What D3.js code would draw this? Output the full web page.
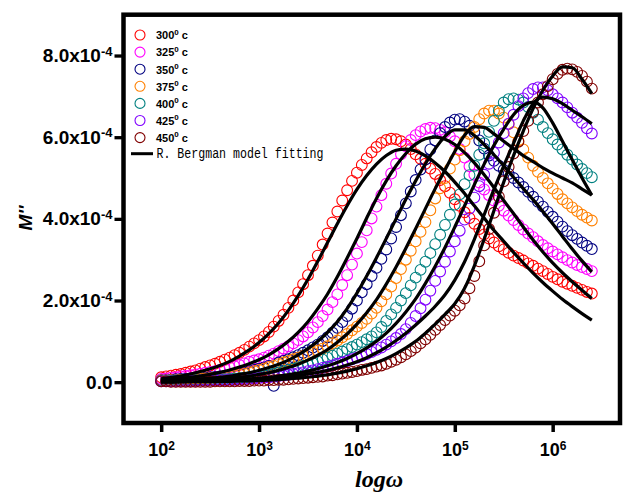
<!DOCTYPE html>
<html>
<head>
<meta charset="utf-8">
<script src="https://cdn.jsdelivr.net/npm/d3@7"></script>
<style>
  body { margin: 0; background: #fff; }
  text { font-family: "Liberation Sans", Arial, sans-serif; }
</style>
</head>
<body>
<div id="chart"></div>
<script>
// log10(omega) grid of the measured points
const logW = [
  2.00, 2.05, 2.10, 2.15, 2.20, 2.25, 2.30, 2.35, 2.40, 2.45,
  2.50, 2.55, 2.60, 2.65, 2.70, 2.75, 2.80, 2.85, 2.90, 2.95,
  3.00, 3.05, 3.10, 3.15, 3.20, 3.25, 3.30, 3.35, 3.40, 3.45,
  3.50, 3.55, 3.60, 3.65, 3.70, 3.75, 3.80, 3.85, 3.90, 3.95,
  4.00, 4.05, 4.10, 4.15, 4.20, 4.25, 4.30, 4.35, 4.40, 4.45,
  4.50, 4.55, 4.60, 4.65, 4.70, 4.75, 4.80, 4.85, 4.90, 4.95,
  5.00, 5.05, 5.10, 5.15, 5.20, 5.25, 5.30, 5.35, 5.40, 5.45,
  5.50, 5.55, 5.60, 5.65, 5.70, 5.75, 5.80, 5.85, 5.90, 5.95,
  6.00, 6.05, 6.10, 6.15, 6.20, 6.25, 6.30, 6.35, 6.40
];

// M'' in units of 1e-4
const m300 = [
  0.12, 0.14, 0.16, 0.18, 0.20, 0.23, 0.26, 0.29, 0.33, 0.37,
  0.41, 0.45, 0.50, 0.55, 0.60, 0.66, 0.72, 0.79, 0.87, 0.95,
  1.03, 1.12, 1.23, 1.36, 1.50, 1.65, 1.82, 2.00, 2.20, 2.40,
  2.62, 2.85, 3.10, 3.37, 3.64, 3.91, 4.18, 4.45, 4.70, 4.93,
  5.13, 5.32, 5.48, 5.63, 5.76, 5.86, 5.93, 5.96, 5.95, 5.90,
  5.82, 5.71, 5.58, 5.47, 5.35, 5.23, 5.10, 4.95, 4.80, 4.64,
  4.48, 4.32, 4.16, 4.02, 3.88, 3.75, 3.62, 3.52, 3.42, 3.33,
  3.25, 3.17, 3.10, 3.04, 2.98, 2.91, 2.85, 2.78, 2.72, 2.65,
  2.58, 2.52, 2.46, 2.41, 2.36, 2.31, 2.26, 2.21, 2.17
];
const m325 = [
  0.08, 0.09, 0.11, 0.12, 0.14, 0.15, 0.17, 0.19, 0.21, 0.23,
  0.25, 0.27, 0.30, 0.33, 0.36, 0.39, 0.42, 0.46, 0.50, 0.53,
  0.56, 0.60, 0.65, 0.70, 0.76, 0.82, 0.88, 0.95, 1.03, 1.12,
  1.22, 1.34, 1.47, 1.62, 1.78, 1.96, 2.15, 2.38, 2.62, 2.88,
  3.15, 3.43, 3.72, 4.01, 4.30, 4.58, 4.86, 5.11, 5.35, 5.58,
  5.78, 5.93, 6.05, 6.14, 6.20, 6.23, 6.22, 6.18, 6.12, 6.02,
  5.90, 5.71, 5.50, 5.29, 5.08, 4.89, 4.72, 4.58, 4.45, 4.32,
  4.20, 4.08, 3.97, 3.85, 3.74, 3.64, 3.55, 3.45, 3.36, 3.28,
  3.20, 3.13, 3.06, 2.99, 2.93, 2.87, 2.82, 2.77, 2.72
];
const m350 = [
  0.05, 0.05, 0.06, 0.07, 0.08, 0.08, 0.09, 0.10, 0.10, 0.11,
  0.12, 0.13, 0.14, 0.15, 0.17, 0.19, 0.21, 0.24, 0.27, 0.30,
  0.33, 0.36, 0.40, -0.09, 0.48, 0.52, 0.56, 0.61, 0.66, 0.72,
  0.78, 0.85, 0.92, 1.01, 1.10, 1.21, 1.33, 1.47, 1.62, 1.80,
  2.00, 2.20, 2.40, 2.60, 2.80, 3.02, 3.25, 3.52, 3.80, 4.09,
  4.38, 4.67, 4.95, 5.21, 5.45, 5.70, 5.92, 6.10, 6.25, 6.36,
  6.43, 6.44, 6.38, 6.28, 6.12, 5.92, 5.72, 5.55, 5.42, 5.30,
  5.20, 5.10, 5.00, 4.89, 4.78, 4.66, 4.54, 4.42, 4.30, 4.17,
  4.05, 3.93, 3.81, 3.70, 3.60, 3.51, 3.42, 3.34, 3.26
];
const m375 = [
  0.04, 0.04, 0.05, 0.05, 0.06, 0.06, 0.07, 0.07, 0.08, 0.09,
  0.10, 0.11, 0.12, 0.13, 0.15, 0.17, 0.19, 0.21, 0.24, 0.27,
  0.30, 0.33, 0.37, 0.40, 0.44, 0.48, 0.52, 0.56, 0.60, 0.64,
  0.68, 0.72, 0.77, 0.82, 0.88, 0.95, 1.02, 1.10, 1.18, 1.27,
  1.36, 1.45, 1.55, 1.68, 1.82, 1.98, 2.15, 2.34, 2.55, 2.77,
  3.00, 3.22, 3.45, 3.68, 3.92, 4.21, 4.50, 4.75, 5.00, 5.23,
  5.45, 5.68, 5.90, 6.08, 6.25, 6.44, 6.58, 6.65, 6.65, 6.58,
  6.48, 6.32, 6.12, 5.91, 5.70, 5.50, 5.30, 5.15, 5.00, 4.87,
  4.74, 4.61, 4.48, 4.38, 4.28, 4.19, 4.10, 4.03, 3.96
];
const m400 = [
  0.03, 0.03, 0.03, 0.04, 0.04, 0.04, 0.04, 0.05, 0.05, 0.05,
  0.06, 0.06, 0.07, 0.07, 0.08, 0.09, 0.10, 0.11, 0.12, 0.13,
  0.15, 0.17, 0.19, 0.21, 0.24, 0.27, 0.30, 0.33, 0.36, 0.40,
  0.43, 0.47, 0.51, 0.55, 0.60, 0.65, 0.70, 0.75, 0.81, 0.86,
  0.92, 0.98, 1.05, 1.12, 1.22, 1.35, 1.50, 1.66, 1.82, 2.00,
  2.18, 2.37, 2.56, 2.75, 2.95, 3.16, 3.38, 3.61, 3.85, 4.10,
  4.35, 4.60, 4.85, 5.07, 5.30, 5.57, 5.85, 6.13, 6.40, 6.65,
  6.85, 6.93, 6.95, 6.92, 6.85, 6.74, 6.60, 6.43, 6.25, 6.10,
  5.95, 5.82, 5.70, 5.57, 5.45, 5.33, 5.22, 5.12, 5.02
];
const m425 = [
  0.02, 0.02, 0.02, 0.02, 0.03, 0.03, 0.03, 0.03, 0.04, 0.04,
  0.04, 0.05, 0.05, 0.05, 0.06, 0.06, 0.07, 0.07, 0.08, 0.09,
  0.10, 0.11, 0.12, 0.13, 0.15, 0.16, 0.18, 0.20, 0.22, 0.24,
  0.27, 0.29, 0.32, 0.35, 0.38, 0.41, 0.45, 0.48, 0.52, 0.56,
  0.60, 0.64, 0.69, 0.74, 0.79, 0.85, 0.92, 1.00, 1.08, 1.18,
  1.30, 1.45, 1.62, 1.81, 2.02, 2.24, 2.48, 2.71, 2.95, 3.20,
  3.45, 3.71, 3.98, 4.25, 4.52, 4.80, 5.08, 5.35, 5.62, 5.87,
  6.10, 6.33, 6.55, 6.76, 6.95, 7.08, 7.18, 7.22, 7.22, 7.15,
  7.05, 6.95, 6.85, 6.73, 6.60, 6.48, 6.35, 6.22, 6.09
];
const m450 = [
  0.02, 0.02, 0.01, 0.01, 0.01, 0.01, 0.01, 0.01, 0.01, 0.01,
  0.01, 0.02, 0.02, 0.02, 0.02, 0.02, 0.03, 0.03, 0.03, 0.04,
  0.04, 0.04, 0.05, 0.05, 0.06, 0.06, 0.07, 0.08, 0.09, 0.10,
  0.11, 0.12, 0.13, 0.14, 0.16, 0.17, 0.19, 0.21, 0.23, 0.25,
  0.27, 0.30, 0.32, 0.35, 0.38, 0.41, 0.45, 0.50, 0.55, 0.61,
  0.68, 0.76, 0.85, 0.95, 1.05, 1.16, 1.28, 1.40, 1.52, 1.63,
  1.75, 1.88, 2.05, 2.30, 2.60, 2.96, 3.35, 3.75, 4.15, 4.54,
  4.92, 5.27, 5.60, 5.89, 6.15, 6.40, 6.62, 6.85, 7.05, 7.25,
  7.42, 7.55, 7.65, 7.68, 7.66, 7.60, 7.50, 7.36, 7.19
];

// Bergman fit curves on a coarser grid
const logWFit = [
  2.0, 2.1, 2.2, 2.3, 2.4, 2.5, 2.6, 2.7, 2.8, 2.9,
  3.0, 3.1, 3.2, 3.3, 3.4, 3.5, 3.6, 3.7, 3.8, 3.9,
  4.0, 4.1, 4.2, 4.3, 4.4, 4.5, 4.6, 4.7, 4.8, 4.9,
  5.0, 5.1, 5.2, 5.3, 5.4, 5.5, 5.6, 5.7, 5.8, 5.9,
  6.0, 6.1, 6.2, 6.3, 6.4
];
const fit300 = [
  0.08, 0.11, 0.15, 0.20, 0.26, 0.33, 0.41, 0.51, 0.64, 0.79,
  0.97, 1.19, 1.45, 1.76, 2.12, 2.52, 2.96, 3.42, 3.88, 4.32,
  4.72, 5.06, 5.34, 5.55, 5.68, 5.71, 5.66, 5.54, 5.37, 5.16,
  4.90, 4.62, 4.32, 4.02, 3.72, 3.45, 3.18, 2.92, 2.67, 2.44,
  2.23, 2.03, 1.85, 1.68, 1.52
];
const fit325 = [
  0.05, 0.07, 0.09, 0.12, 0.15, 0.19, 0.24, 0.30, 0.37, 0.45,
  0.55, 0.67, 0.82, 1.00, 1.22, 1.48, 1.80, 2.16, 2.58, 3.04,
  3.52, 4.02, 4.50, 4.93, 5.30, 5.60, 5.83, 5.96, 6.00, 5.95,
  5.82, 5.62, 5.37, 5.08, 4.77, 4.45, 4.13, 3.80, 3.48, 3.19,
  2.92, 2.68, 2.46, 2.25, 2.05
];
const fit350 = [
  0.03, 0.04, 0.05, 0.06, 0.08, 0.10, 0.12, 0.15, 0.19, 0.23,
  0.29, 0.36, 0.44, 0.54, 0.67, 0.82, 1.00, 1.22, 1.48, 1.80,
  2.18, 2.60, 3.05, 3.52, 4.00, 4.48, 4.93, 5.35, 5.72, 6.02,
  6.18, 6.18, 6.04, 5.82, 5.57, 5.30, 5.02, 4.74, 4.47, 4.18,
  3.88, 3.57, 3.26, 2.97, 2.70
];
const fit375 = [
  0.02, 0.03, 0.03, 0.04, 0.05, 0.06, 0.08, 0.10, 0.12, 0.15,
  0.19, 0.23, 0.29, 0.36, 0.44, 0.54, 0.66, 0.80, 0.98, 1.18,
  1.42, 1.70, 2.02, 2.40, 2.82, 3.28, 3.76, 4.25, 4.74, 5.20,
  5.65, 6.05, 6.26, 6.24, 6.08, 5.90, 5.72, 5.55, 5.40, 5.25,
  5.12, 5.00, 4.88, 4.73, 4.58
];
const fit400 = [
  0.01, 0.01, 0.02, 0.02, 0.03, 0.03, 0.04, 0.05, 0.06, 0.08,
  0.10, 0.12, 0.15, 0.18, 0.22, 0.27, 0.33, 0.40, 0.48, 0.58,
  0.70, 0.84, 1.00, 1.20, 1.44, 1.72, 2.04, 2.42, 2.84, 3.30,
  3.80, 4.32, 4.84, 5.34, 5.80, 6.20, 6.55, 6.78, 6.86, 6.72,
  6.35, 5.90, 5.45, 5.00, 4.58
];
const fit425 = [
  0.01, 0.01, 0.01, 0.02, 0.02, 0.03, 0.03, 0.04, 0.05, 0.06,
  0.07, 0.09, 0.11, 0.13, 0.16, 0.20, 0.24, 0.29, 0.35, 0.42,
  0.50, 0.60, 0.72, 0.86, 1.02, 1.20, 1.40, 1.62, 1.86, 2.14,
  2.50, 2.95, 3.50, 4.10, 4.72, 5.30, 5.85, 6.40, 6.82, 6.98,
  6.94, 6.82, 6.66, 6.50, 6.33
];
const fit450 = [
  0.00, 0.00, 0.01, 0.01, 0.01, 0.01, 0.02, 0.02, 0.03, 0.03,
  0.04, 0.05, 0.06, 0.08, 0.10, 0.12, 0.15, 0.18, 0.22, 0.27,
  0.33, 0.40, 0.48, 0.58, 0.70, 0.84, 1.00, 1.20, 1.42, 1.66,
  1.92, 2.30, 2.85, 3.50, 4.20, 4.90, 5.55, 6.15, 6.70, 7.15,
  7.50, 7.72, 7.70, 7.42, 7.07
];

const temps = ['300', '325', '350', '375', '400', '425', '450'];
const colors = ['#FF0000', '#FF00FF', '#000080', '#FF8000', '#008080', '#8000FF', '#800000'];
const measured = [m300, m325, m350, m375, m400, m425, m450];
const fits = [fit300, fit325, fit350, fit375, fit400, fit425, fit450];

const xTicks = [1e2, 1e3, 1e4, 1e5, 1e6];
const yTicks = [0, 2, 4, 6, 8];
const yTickLabels = ['0.0', '2.0x10', '4.0x10', '6.0x10', '8.0x10'];

const width = 633, height = 494;
const frame = { left: 123.5, right: 620, top: 14.7, bottom: 423 };

const svg = d3.select('#chart').append('svg')
  .attr('width', width)
  .attr('height', height);

const x = d3.scaleLog()
  .domain([Math.pow(10, 1.615), Math.pow(10, 6.688)])
  .range([frame.left, frame.right]);
const y = d3.scaleLinear()
  .domain([-1, 9])
  .range([frame.bottom, frame.top]);

// measured points
measured.forEach((vals, i) => {
  svg.append('g')
    .selectAll('circle')
    .data(vals)
    .enter().append('circle')
    .attr('cx', (d, j) => x(Math.pow(10, logW[j])))
    .attr('cy', d => y(d))
    .attr('r', 5.4)
    .attr('fill', 'none')
    .attr('stroke', colors[i])
    .attr('stroke-width', 1.1);
});

// fit lines
const fitLine = d3.line()
  .x((d, j) => x(Math.pow(10, logWFit[j])))
  .y(d => y(d))
  .curve(d3.curveMonotoneX);

fits.forEach(vals => {
  svg.append('path')
    .datum(vals)
    .attr('fill', 'none')
    .attr('stroke', '#000')
    .attr('stroke-width', 3.2)
    .attr('d', fitLine);
});

// frame
svg.append('rect')
  .attr('x', frame.left)
  .attr('y', frame.top)
  .attr('width', frame.right - frame.left)
  .attr('height', frame.bottom - frame.top)
  .attr('fill', 'none')
  .attr('stroke', '#000')
  .attr('stroke-width', 4.5);

// x axis
const xAxis = svg.append('g')
  .attr('transform', `translate(0,${frame.bottom})`)
  .call(d3.axisBottom(x).tickValues(xTicks).tickSize(9).tickPadding(11));
xAxis.select('.domain').remove();
xAxis.selectAll('.tick line').attr('stroke', '#000').attr('stroke-width', 3.5);
xAxis.selectAll('.tick text')
  .attr('fill', '#000')
  .attr('font-size', 18)
  .attr('font-weight', 'bold')
  .each(function (d) {
    const t = d3.select(this);
    t.text(null);
    t.append('tspan').text('10');
    t.append('tspan')
      .attr('dy', '-0.45em')
      .attr('font-size', 12)
      .text(Math.round(Math.log10(d)));
  });

// y axis
const yAxis = svg.append('g')
  .attr('transform', `translate(${frame.left},0)`)
  .call(d3.axisLeft(y).tickValues(yTicks).tickSize(9).tickPadding(2));
yAxis.select('.domain').remove();
yAxis.selectAll('.tick line').attr('stroke', '#000').attr('stroke-width', 3.3);
yAxis.selectAll('.tick text')
  .attr('fill', '#000')
  .attr('font-size', 19)
  .attr('font-weight', 'bold')
  .each(function (d, i) {
    const t = d3.select(this);
    t.text(null);
    t.append('tspan').text(yTickLabels[i]);
    if (d !== 0) {
      t.append('tspan')
        .attr('dy', '-0.5em')
        .attr('font-size', 13)
        .text('-4');
    }
  });

// axis titles
svg.append('text')
  .attr('transform', `translate(31.5,218) rotate(-90)`)
  .attr('text-anchor', 'middle')
  .attr('font-size', 19)
  .attr('font-weight', 'bold')
  .attr('font-style', 'italic')
  .text("M''");

svg.append('text')
  .attr('x', 379)
  .attr('y', 487)
  .attr('text-anchor', 'middle')
  .style('font-family', '"Liberation Serif", "Times New Roman", serif')
  .attr('font-size', 24)
  .attr('font-weight', 'bold')
  .attr('font-style', 'italic')
  .text('log\u03C9');

// legend
const legend = svg.append('g');
temps.forEach((t, i) => {
  const ly = 35 + i * 17.1;
  legend.append('circle')
    .attr('cx', 140).attr('cy', ly).attr('r', 5)
    .attr('fill', 'none').attr('stroke', colors[i]).attr('stroke-width', 1.1);
  const txt = legend.append('text')
    .attr('x', 156).attr('y', ly + 4.3)
    .attr('font-size', 11).attr('font-weight', 'bold');
  txt.append('tspan').text(t);
  txt.append('tspan').attr('dy', -4.5).attr('font-size', 8).text('0');
  txt.append('tspan').attr('dy', 4.5).attr('font-size', 11).text(' c');
});
const lineY = 35 + 7 * 17.1 - 1;
legend.append('line')
  .attr('x1', 131).attr('x2', 153)
  .attr('y1', lineY).attr('y2', lineY)
  .attr('stroke', '#000').attr('stroke-width', 3);
legend.append('text')
  .attr('x', 156.5).attr('y', lineY + 4.5)
  .style('font-family', '"Liberation Mono", monospace')
  .attr('font-size', 14)
  .attr('textLength', 167)
  .attr('lengthAdjust', 'spacingAndGlyphs')
  .text('R. Bergman model fitting');
</script>
</body>
</html>
